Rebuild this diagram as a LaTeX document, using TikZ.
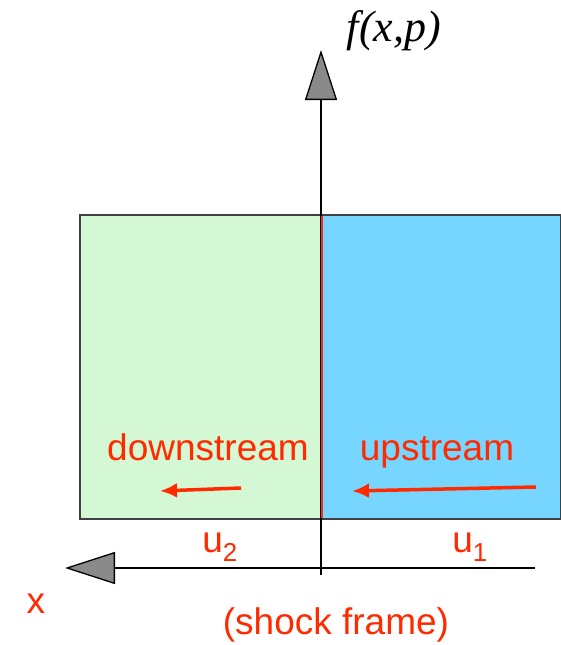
\documentclass[tikz,border=0pt]{standalone}
\usepackage{fontspec}
\setmainfont{Liberation Sans}
\newfontfamily\serifit{Liberation Serif}
\usetikzlibrary{arrows.meta}
\definecolor{shockred}{HTML}{FF2A00}
\definecolor{downgreen}{HTML}{D4F8D4}
\definecolor{upblue}{HTML}{76D6FF}
\definecolor{tipgray}{HTML}{8A8A8A}
\tikzset{
  axis/.style={draw=black, line width=1.3pt, -{Triangle[length=50pt,width=32pt,fill=tipgray]}},
  region/.style={draw=black!75, line width=1.2pt},
  flow/.style={draw=shockred, line width=3.5pt, -{Latex[length=17pt,width=15pt]}},
  lbl/.style={text=shockred, font=\fontsize{37}{40}\selectfont, inner sep=0pt},
}
\begin{document}
\begin{tikzpicture}[x=1pt,y=-1pt]
\useasboundingbox (0,0) rectangle (560,645);
% regions
\path[region, fill=downgreen] (80,215) rectangle (321,519);
\path[region, fill=upblue] (321,215) rectangle (561,519);
% axes
\coordinate (vstart) at (321,575);
\coordinate (vtip) at (321,50);
\coordinate (hstart) at (535,568);
\coordinate (htip) at (65,568);
\draw[axis] (vstart) -- (vtip);
\draw[axis] (hstart) -- (htip);
% shock line
\coordinate (shockTop) at (321.5,216);
\coordinate (shockBot) at (321.5,518);
\draw[shockred, line width=2pt] (shockTop) -- (shockBot);
% labels
\node[inner sep=0pt, font=\serifit\itshape\fontsize{44}{48}\selectfont] (f) at (394,31) {f(x,p)};
\node[lbl] (down) at (208,447) {downstream};
\node[lbl] (up) at (437,452) {upstream};
\node[lbl] (u2) at (220,547) {u$_{\mathrm{2}}$};
\node[lbl] (u1) at (470,547) {u$_{\mathrm{1}}$};
\node[lbl] (xl) at (36,604) {x};
\node[lbl] (frame) at (336,625) {(shock frame)};
% flow arrows
\coordinate (d1) at (241,488);
\coordinate (d2) at (160,491);
\coordinate (a1) at (536,487);
\coordinate (a2) at (352,491);
\draw[flow] (d1) -- (d2);
\draw[flow] (a1) -- (a2);
\end{tikzpicture}
\end{document}
